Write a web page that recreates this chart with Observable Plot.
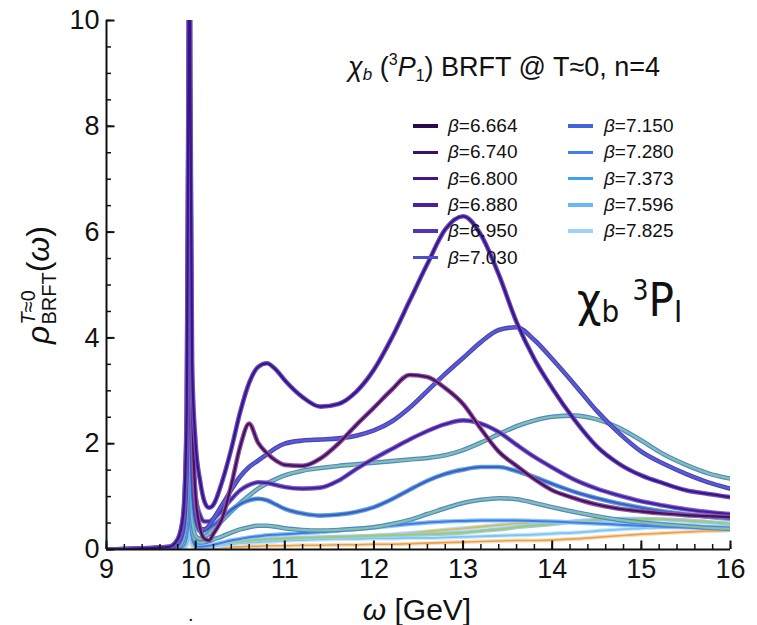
<!DOCTYPE html>
<html>
<head>
<meta charset="utf-8">
<script src="https://cdn.jsdelivr.net/npm/d3@7"></script>
<script src="https://cdn.jsdelivr.net/npm/@observablehq/plot@0.6"></script>
<style>
  html, body { margin: 0; padding: 0; background: #fff; }
  #wrap { position: relative; width: 757px; height: 625px; font-family: "Liberation Sans", Arial, sans-serif; color: #111; }
  #wrap svg { position: absolute; left: 0; top: 0; }
  .ov { position: absolute; white-space: nowrap; line-height: 1; }
  .leg-line { position: absolute; width: 25px; height: 3.5px; }
  .leg-text { position: absolute; font-size: 19px; line-height: 22px; white-space: nowrap; }
</style>
</head>
<body>
<div id="wrap"></div>
<script>
// ---- data (omega in GeV, rho dimensionless) ----
const omega = [9.0, 9.7, 9.8, 9.86, 9.9, 9.92, 9.93, 9.94, 9.96, 10.0, 10.05, 10.1, 10.15, 10.2, 10.3, 10.4, 10.5, 10.6, 10.7, 10.8, 10.9, 11.0, 11.2, 11.4, 11.6, 11.8, 12.0, 12.2, 12.4, 12.6, 12.8, 13.0, 13.2, 13.4, 13.6, 13.8, 14.0, 14.25, 14.5, 14.75, 15.0, 15.25, 15.5, 15.75, 16.0];

const rhoA = [0, 0.05, 0.2, 0.65, 2.6, 9, 14, 9, 3.5, 2.0, 1.3, 0.9, 0.79, 0.85, 1.3, 1.9, 2.6, 3.15, 3.45, 3.52, 3.4, 3.2, 2.88, 2.7, 2.75, 2.98, 3.4, 4.0, 4.7, 5.4, 6.05, 6.3, 5.95, 5.2, 4.3, 3.6, 3.05, 2.45, 1.95, 1.62, 1.4, 1.25, 1.12, 1.05, 0.99];
const rhoB = [0, 0.05, 0.18, 0.6, 2.4, 8.5, 13, 8, 2.8, 1.0, 0.4, 0.2, 0.17, 0.3, 0.6, 1.22, 1.95, 2.38, 2.02, 1.82, 1.68, 1.6, 1.58, 1.72, 2.0, 2.35, 2.68, 3.02, 3.3, 3.26, 3.05, 2.75, 2.28, 1.85, 1.58, 1.33, 1.12, 0.97, 0.85, 0.77, 0.72, 0.68, 0.65, 0.63, 0.61];
const rhoC = [0, 0.03, 0.12, 0.4, 1.6, 5.5, 8.1, 5, 1.8, 0.7, 0.4, 0.38, 0.45, 0.58, 0.85, 1.13, 1.38, 1.56, 1.68, 1.8, 1.92, 2.0, 2.06, 2.08, 2.1, 2.15, 2.25, 2.42, 2.68, 3.0, 3.32, 3.62, 3.92, 4.15, 4.2, 3.96, 3.6, 3.12, 2.62, 2.2, 1.85, 1.62, 1.43, 1.27, 1.15];
const rhoD = [0, 0.04, 0.15, 0.5, 1.9, 6.5, 10, 6, 2.2, 1.0, 0.65, 0.53, 0.53, 0.58, 0.75, 0.95, 1.12, 1.22, 1.27, 1.26, 1.22, 1.18, 1.15, 1.17, 1.3, 1.52, 1.72, 1.9, 2.08, 2.24, 2.37, 2.44, 2.38, 2.22, 1.98, 1.75, 1.55, 1.32, 1.15, 1.02, 0.91, 0.83, 0.76, 0.71, 0.67];
const rhoE = [0, 0.02, 0.08, 0.3, 1.1, 3.3, 4.8, 3.0, 1.1, 0.5, 0.34, 0.35, 0.4, 0.46, 0.6, 0.75, 0.86, 0.93, 0.96, 0.93, 0.85, 0.77, 0.68, 0.64, 0.66, 0.71, 0.8, 0.95, 1.13, 1.3, 1.43, 1.51, 1.56, 1.56, 1.48, 1.37, 1.24, 1.09, 0.97, 0.87, 0.79, 0.72, 0.67, 0.62, 0.58];
const rhoF = [0, 0.015, 0.05, 0.18, 0.65, 2.0, 2.8, 1.8, 0.6, 0.25, 0.2, 0.24, 0.3, 0.38, 0.55, 0.72, 0.88, 1.02, 1.15, 1.25, 1.33, 1.4, 1.49, 1.54, 1.58, 1.61, 1.64, 1.67, 1.7, 1.73, 1.78, 1.88, 2.02, 2.18, 2.33, 2.44, 2.51, 2.53, 2.46, 2.3, 2.06, 1.8, 1.6, 1.44, 1.34];
const rhoG = [0, 0.01, 0.03, 0.1, 0.4, 1.1, 1.5, 1.0, 0.35, 0.16, 0.13, 0.14, 0.16, 0.19, 0.25, 0.32, 0.38, 0.42, 0.45, 0.45, 0.43, 0.4, 0.37, 0.36, 0.37, 0.39, 0.42, 0.48, 0.56, 0.67, 0.78, 0.88, 0.94, 0.97, 0.95, 0.88, 0.8, 0.71, 0.63, 0.56, 0.51, 0.47, 0.44, 0.41, 0.39];
const rhoH = [0, 0.005, 0.02, 0.06, 0.22, 0.65, 0.9, 0.6, 0.2, 0.07, 0.05, 0.06, 0.07, 0.09, 0.13, 0.17, 0.2, 0.23, 0.25, 0.27, 0.28, 0.29, 0.31, 0.33, 0.36, 0.39, 0.42, 0.45, 0.48, 0.51, 0.53, 0.54, 0.55, 0.55, 0.55, 0.54, 0.53, 0.51, 0.49, 0.47, 0.45, 0.43, 0.42, 0.41, 0.4];
const rhoI = [0, 0.003, 0.01, 0.035, 0.13, 0.38, 0.5, 0.34, 0.12, 0.05, 0.04, 0.05, 0.06, 0.08, 0.11, 0.13, 0.15, 0.17, 0.18, 0.19, 0.2, 0.21, 0.22, 0.23, 0.24, 0.25, 0.26, 0.27, 0.28, 0.29, 0.3, 0.32, 0.35, 0.38, 0.42, 0.45, 0.48, 0.53, 0.56, 0.58, 0.58, 0.57, 0.55, 0.52, 0.49];
const rhoJ = [0, 0.002, 0.008, 0.03, 0.1, 0.3, 0.4, 0.27, 0.1, 0.04, 0.03, 0.04, 0.05, 0.06, 0.08, 0.1, 0.12, 0.13, 0.14, 0.15, 0.16, 0.17, 0.18, 0.19, 0.2, 0.2, 0.21, 0.21, 0.22, 0.22, 0.23, 0.24, 0.25, 0.26, 0.27, 0.28, 0.3, 0.32, 0.35, 0.38, 0.4, 0.42, 0.43, 0.44, 0.44];
const rhoK = [0, 0.002, 0.006, 0.02, 0.08, 0.24, 0.32, 0.22, 0.08, 0.04, 0.03, 0.04, 0.05, 0.06, 0.08, 0.1, 0.12, 0.13, 0.14, 0.15, 0.16, 0.17, 0.19, 0.2, 0.22, 0.24, 0.26, 0.28, 0.31, 0.34, 0.37, 0.4, 0.43, 0.46, 0.49, 0.51, 0.52, 0.52, 0.51, 0.5, 0.49, 0.48, 0.47, 0.46, 0.45];
const rhoL = [0, 0.001, 0.005, 0.015, 0.06, 0.18, 0.25, 0.17, 0.06, 0.03, 0.02, 0.02, 0.03, 0.03, 0.04, 0.05, 0.05, 0.06, 0.06, 0.07, 0.07, 0.07, 0.08, 0.08, 0.09, 0.09, 0.1, 0.1, 0.11, 0.12, 0.13, 0.14, 0.15, 0.16, 0.17, 0.17, 0.18, 0.2, 0.23, 0.26, 0.29, 0.31, 0.33, 0.35, 0.36];

const betaLabels = ["6.664", "6.740", "6.800", "6.880", "6.950", "7.030", "7.150", "7.280", "7.373", "7.596", "7.825"];
const betaColors = ["#2b0a4c", "#3a0f6e", "#44168a", "#4c1f9c", "#5434b2", "#4a4fc8", "#4164d8", "#3c80e8", "#41a0f0", "#68b8f6", "#9ed2f8"];

const xLabelTicks = [9, 10, 11, 12, 13, 14, 15, 16];
const yLabelTicks = [0, 2, 4, 6, 8, 10];

// ---- curve styling (outer halo + inner core) ----
const curves = [
  {v: rhoL, outer: "#f6dcb8", inner: "#eaa24a", w: 1.6},
  {v: rhoK, outer: "#b6def6", inner: "#d8bc50", w: 1.8},
  {v: rhoJ, outer: "#c4e6fa", inner: "#7cc4f2", w: 1.8},
  {v: rhoI, outer: "#98ccf2", inner: "#a8c860", w: 1.8},
  {v: rhoH, outer: "#92c4f2", inner: "#3b7fe6", w: 2.0},
  {v: rhoG, outer: "#4f86dc", inner: "#86c2a0", w: 2.2},
  {v: rhoF, outer: "#4f86dc", inner: "#86c2a0", w: 2.2},
  {v: rhoE, outer: "#5aa6d8", inner: "#3f5cc8", w: 2.2},
  {v: rhoD, outer: "#7466c8", inner: "#4a1c9c", w: 2.2},
  {v: rhoC, outer: "#5a3cb8", inner: "#4a64d0", w: 2.2},
  {v: rhoB, outer: "#8a5aa0", inner: "#4a0d60", w: 2.2},
  {v: rhoA, outer: "#6a52c0", inner: "#3c1384", w: 2.2}
];

const rows = v => omega.map((w, i) => ({omega: w, rho: v[i]}));

const marks = [];
for (const c of curves) {
  marks.push(Plot.line(rows(c.v), {x: "omega", y: "rho", stroke: c.outer, strokeWidth: c.w + 2.4, curve: "monotone-x", clip: true}));
  marks.push(Plot.line(rows(c.v), {x: "omega", y: "rho", stroke: c.inner, strokeWidth: c.w, curve: "monotone-x", clip: true}));
}

const xMinor = d3.range(9, 16.001, 0.2).map(d => +d.toFixed(2));
const yMinor = d3.range(0, 10.001, 0.5);

const W = 757, H = 625, mL = 106, mR = 27, mT = 20, mB = 76;
const innerW = W - mL - mR, innerH = H - mT - mB;
const xDom = [9, 16], yDom = [0, 10];
// tick lengths (px) expressed in data units for inward ticks
const pxY = (yDom[1] - yDom[0]) / innerH;
const pxX = (xDom[1] - xDom[0]) / innerW;

const chart = Plot.plot({
  width: W,
  height: H,
  marginLeft: mL,
  marginRight: mR,
  marginTop: mT,
  marginBottom: mB,
  x: {domain: xDom, label: null},
  y: {domain: yDom, label: null},
  style: {fontFamily: "Liberation Sans, Arial, sans-serif", background: "transparent", color: "#111"},
  marks: [
    ...marks,
    // inward ticks (minor and major) along bottom and left
    Plot.ruleX(xMinor, {x: d => d, y1: yDom[0], y2: yDom[0] + 5 * pxY, stroke: "#111", strokeWidth: 1.5}),
    Plot.ruleX(xLabelTicks, {x: d => d, y1: yDom[0], y2: yDom[0] + 8.5 * pxY, stroke: "#111", strokeWidth: 2}),
    Plot.ruleY(yMinor, {y: d => d, x1: xDom[0], x2: xDom[0] + 5 * pxX, stroke: "#111", strokeWidth: 1.5}),
    Plot.ruleY(yLabelTicks, {y: d => d, x1: xDom[0], x2: xDom[0] + 8.5 * pxX, stroke: "#111", strokeWidth: 2}),
    Plot.axisX({ticks: xLabelTicks, tickSize: 0, tickPadding: 9, fontSize: 27, tickFormat: d => String(d), label: null}),
    Plot.axisY({ticks: yLabelTicks, tickSize: 0, tickPadding: 7, fontSize: 27, tickFormat: d => String(d), label: null}),
    Plot.ruleY([0], {stroke: "#111", strokeWidth: 2}),
    Plot.ruleX([9], {stroke: "#111", strokeWidth: 2})
  ]
});

const wrap = document.getElementById("wrap");
wrap.appendChild(chart);

function addDiv(html, style, cls = "ov") {
  const d = document.createElement("div");
  d.className = cls;
  d.innerHTML = html;
  Object.assign(d.style, style);
  wrap.appendChild(d);
  return d;
}

// title
addDiv('<i>χ<sub style="font-size:17px;vertical-align:-4px">b</sub></i> (<sup style="font-size:16px;vertical-align:11px">3</sup><i>P</i><sub style="font-size:16px;vertical-align:-5px">1</sub>) BRFT @ T≈0, n=4',
  {left: "348px", top: "52px", fontSize: "27px"});

// legend
betaLabels.forEach((b, i) => {
  const col = i < 6 ? 0 : 1;
  const row = i < 6 ? i : i - 6;
  const cy = 126 + 26.3 * row;
  const lx = col === 0 ? 412.5 : 568;
  const tx = col === 0 ? 448 : 604;
  addDiv("", {left: lx + "px", top: (cy - 1.75) + "px", background: betaColors[i]}, "leg-line");
  addDiv('<i>β</i>=' + b, {left: tx + "px", top: (cy - 11) + "px"}, "leg-text");
});

// big label
addDiv('χ<sub style="font-size:31px;vertical-align:-6px">b</sub>&nbsp;<sup style="font-size:28px;vertical-align:16px">3</sup>P<sub style="font-size:31px;vertical-align:-6px">I</sub>',
  {left: "577px", top: "276px", fontSize: "47px", fontFamily: "'Liberation Sans Narrow', 'DejaVu Sans Condensed', sans-serif"});

// y label (rotated)
addDiv('<i>ρ</i><span style="display:inline-block;vertical-align:-7px;line-height:1;font-size:20px;margin-left:1px"><span style="display:block"><i>T</i>≈0</span><span style="display:block;margin-top:1px">BRFT</span></span>(<i>ω</i>)',
  {left: "38px", top: "285px", fontSize: "32px", transform: "translate(-50%,-50%) rotate(-90deg)"});

// x label
addDiv('<i>ω</i> [GeV]', {left: "417px", top: "595px", fontSize: "30px", transform: "translateX(-50%)"});
addDiv('.', {left: "188px", top: "604px", fontSize: "20px"});
</script>
</body>
</html>
